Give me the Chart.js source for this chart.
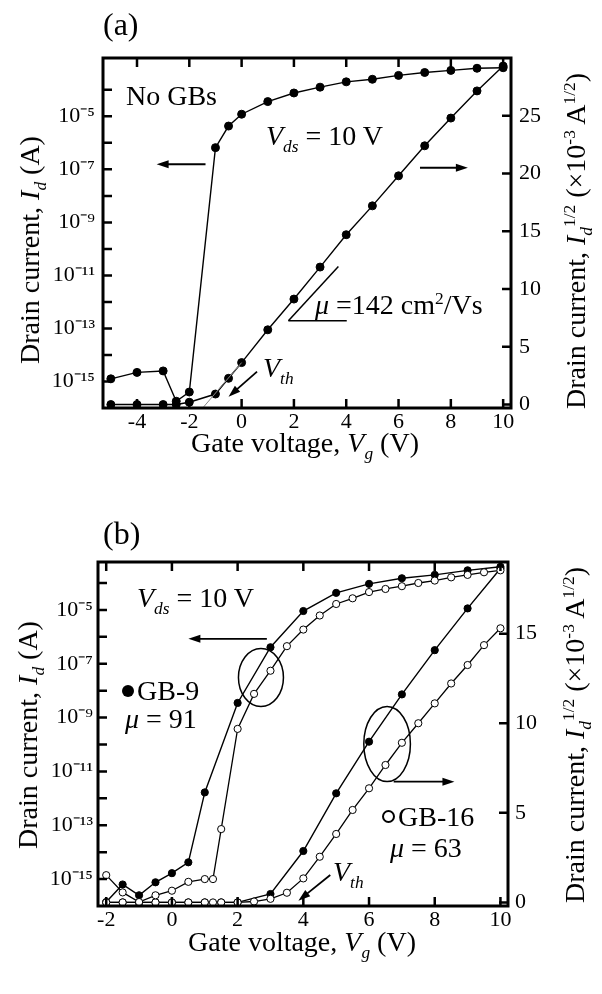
<!DOCTYPE html>
<html>
<head>
<meta charset="utf-8">
<script src="https://cdn.jsdelivr.net/npm/chart.js@4.4.1/dist/chart.umd.min.js"></script>
<style>
  html, body { margin: 0; padding: 0; background: #fff; }
  body { width: 602px; height: 994px; position: relative; overflow: hidden;
         font-family: "Liberation Serif", "Times New Roman", serif; color: #000; }
  .wrap { position: absolute; left: 0; width: 602px; }
  #wrapA { top: 0; height: 470px; }
  #wrapB { top: 480px; height: 514px; }
  .lbl { position: absolute; white-space: nowrap; font-size: 28px; line-height: 1; transform: translateY(-50%); }
  .vt { position: absolute; white-space: nowrap; font-size: 28px; line-height: 1; transform: translate(-50%, -50%) rotate(-90deg); }
  .ht { position: absolute; white-space: nowrap; font-size: 28px; line-height: 1; transform: translate(-50%, -50%); }
  sub, sup { font-size: 0.62em; line-height: 0; }
  .dot { display: inline-block; width: 12px; height: 12px; border-radius: 50%; background: #000; vertical-align: 3px; margin-right: 3px; }
  .ring { display: inline-block; width: 9px; height: 9px; border-radius: 50%; border: 2px solid #000; vertical-align: 3px; margin-right: 3px; }
</style>
</head>
<body>
<div class="wrap" id="wrapA"><canvas id="chartA" width="602" height="470"></canvas></div>
<div class="wrap" id="wrapB"><canvas id="chartB" width="602" height="514"></canvas></div>

<!-- panel (a) texts -->
<div class="lbl" style="left:103px; top:24px; font-size:32px;">(a)</div>
<div class="lbl" style="left:126px; top:96px;">No GBs</div>
<div class="lbl" style="left:266px; top:136px;"><i>V</i><sub><i>ds</i></sub> = 10 V</div>
<div class="lbl" style="left:315px; top:305px;"><i>μ</i> =142 cm<sup>2</sup>/Vs</div>
<div class="lbl" style="left:263px; top:368px;"><i>V</i><sub><i>th</i></sub></div>
<div class="vt" style="left:30px; top:250px;">Drain current, <i>I</i><sub><i>d</i></sub> (A)</div>
<div class="vt" style="left:576px; top:241px;">Drain current, <i>I</i><sub><i>d</i></sub><sup>1/2</sup> (×10<sup>-3</sup> A<sup>1/2</sup>)</div>
<div class="ht" style="left:305px; top:443px;">Gate voltage, <i>V</i><sub><i>g</i></sub> (V)</div>

<!-- panel (b) texts -->
<div class="lbl" style="left:103px; top:533px; font-size:32px;">(b)</div>
<div class="lbl" style="left:137px; top:598px;"><i>V</i><sub><i>ds</i></sub> = 10 V</div>
<div class="lbl" style="left:122px; top:691px;"><span class="dot"></span>GB-9</div>
<div class="lbl" style="left:125px; top:719px;"><i>μ</i> = 91</div>
<div class="lbl" style="left:382px; top:817px;"><span class="ring"></span>GB-16</div>
<div class="lbl" style="left:390px; top:848px;"><i>μ</i> = 63</div>
<div class="lbl" style="left:333px; top:872px;"><i>V</i><sub><i>th</i></sub></div>
<div class="vt" style="left:28px; top:735px;">Drain current, <i>I</i><sub><i>d</i></sub> (A)</div>
<div class="vt" style="left:575px; top:735px;">Drain current, <i>I</i><sub><i>d</i></sub><sup>1/2</sup> (×10<sup>-3</sup> A<sup>1/2</sup>)</div>
<div class="ht" style="left:302px; top:942px;">Gate voltage, <i>V</i><sub><i>g</i></sub> (V)</div>

<script>
// ---- panel (a): no grain boundaries ----
const vgA = [-5, -4, -3, -2.5, -2, -1, -0.5, 0, 1, 2, 3, 4, 5, 6, 7, 8, 9, 10];
const idA = [1.26e-15, 2.2e-15, 2.5e-15, 1.8e-16, 4.0e-16, 6.6e-7, 4.3e-6, 1.2e-5, 3.6e-5, 7.6e-5,
             1.26e-4, 2.0e-4, 2.5e-4, 3.5e-4, 4.5e-4, 5.4e-4, 6.5e-4, 6.8e-4];
const sqrtIdA = [0, 0, 0, 0, 0.2, 0.91, 2.27, 3.63, 6.47, 9.13, 11.9, 14.7, 17.2, 19.8, 22.4, 24.8, 27.15, 29.3];
// extrapolated line used for Vth
const vthFitVgA = [-1.45, 0];
const vthFitA = [-0.2, 3.63];

// ---- panel (b): GB-9 (filled) and GB-16 (open) ----
const vgB9 = [-2, -1.5, -1, -0.5, 0, 0.5, 1, 2, 3, 4, 5, 6, 7, 8, 9, 10];
const idB9 = [1.4e-16, 6.3e-16, 2.5e-16, 7.6e-16, 1.66e-15, 4.2e-15, 1.66e-12, 3.5e-9, 4.1e-7, 9.1e-6,
              4.3e-5, 9.3e-5, 1.5e-4, 2.0e-4, 2.95e-4, 4.0e-4];
const vgB9lin = [-2, -1.5, -1, -0.5, 0, 0.5, 1, 1.5, 2, 3, 4, 5, 6, 7, 8, 9, 10];
const sqrtIdB9 = [0, 0, 0, 0, 0, 0, 0, 0, 0, 0.47, 2.87, 6.09, 8.97, 11.61, 14.08, 16.41, 18.64];
const vgB16 = [-2, -1.5, -1, -0.5, 0, 0.5, 1, 1.25, 1.5, 2, 2.5, 3, 3.5, 4, 4.5, 5, 5.5, 6, 6.5, 7,
               7.5, 8, 8.5, 9, 9.5, 10];
const idB16 = [1.4e-15, 3.2e-16, 1.4e-16, 2.5e-16, 3.7e-16, 7.9e-16, 1.0e-15, 1.0e-15, 7.2e-14, 3.8e-10,
               7.6e-9, 5.5e-8, 4.5e-7, 1.86e-6, 6.2e-6, 1.66e-5, 2.7e-5, 4.6e-5, 6.0e-5, 7.6e-5,
               1.0e-4, 1.23e-4, 1.62e-4, 2.0e-4, 2.5e-4, 2.95e-4];
const sqrtIdB16 = [0, 0, 0, 0, 0, 0, 0, 0, 0, 0, 0.05, 0.2, 0.54, 1.34, 2.55, 3.82, 5.16, 6.37, 7.67, 8.91,
                   10.0, 11.11, 12.22, 13.25, 14.36, 15.3];

// ---- ticks ----
const xTicksA = [-4, -2, 0, 2, 4, 6, 8, 10];
const xTicksB = [-2, 0, 2, 4, 6, 8, 10];
const logTickExps = [-15, -14, -13, -12, -11, -10, -9, -8, -7, -6, -5, -4];
const logLabelExps = [-15, -13, -11, -9, -7, -5];
const linTicksA = [0, 5, 10, 15, 20, 25];
const linTicksB = [0, 5, 10, 15];

const SUP = { '-': '⁻', '0': '⁰', '1': '¹', '2': '²', '3': '³', '4': '⁴', '5': '⁵', '6': '⁶', '7': '⁷', '8': '⁸', '9': '⁹' };
const toSup = s => String(s).split('').map(c => SUP[c] || c).join('');
const pts = (xs, ys) => xs.map((x, i) => ({ x: x, y: ys[i] }));

const tickFont = { family: "'Liberation Serif', 'Times New Roman', serif", size: 22 };

// frame, inward tick marks, arrows and ellipses
const extras = {
  id: 'extras',
  afterDraw(chart, args, opts) {
    const ctx = chart.ctx, a = chart.chartArea;
    const sx = chart.scales.x, sl = chart.scales.yLog, sr = chart.scales.yLin;
    const L = opts.tickLen;
    ctx.save();
    ctx.strokeStyle = '#000';
    ctx.lineWidth = 2.5;
    ctx.beginPath();
    sx.ticks.forEach(t => {
      const p = sx.getPixelForValue(t.value);
      ctx.moveTo(p, a.bottom); ctx.lineTo(p, a.bottom - L);
      ctx.moveTo(p, a.top); ctx.lineTo(p, a.top + L);
    });
    sl.ticks.forEach(t => {
      const p = sl.getPixelForValue(t.value);
      ctx.moveTo(a.left, p); ctx.lineTo(a.left + L, p);
    });
    sr.ticks.forEach(t => {
      const p = sr.getPixelForValue(t.value);
      ctx.moveTo(a.right, p); ctx.lineTo(a.right - L, p);
    });
    ctx.stroke();
    ctx.lineWidth = 3;
    ctx.strokeRect(a.left, a.top, a.right - a.left, a.bottom - a.top);

    // arrows (data units)
    ctx.lineWidth = 1.8;
    (opts.arrows || []).forEach(ar => {
      const ys = chart.scales[ar.axis];
      const x1 = sx.getPixelForValue(ar.x1), y1 = ys.getPixelForValue(ar.y1);
      const x2 = sx.getPixelForValue(ar.x2), y2 = ys.getPixelForValue(ar.y2);
      const ang = Math.atan2(y2 - y1, x2 - x1);
      ctx.beginPath(); ctx.moveTo(x1, y1);
      ctx.lineTo(x2 - 8 * Math.cos(ang), y2 - 8 * Math.sin(ang)); ctx.stroke();
      ctx.beginPath();
      ctx.moveTo(x2, y2);
      ctx.lineTo(x2 - 12 * Math.cos(ang) + 4 * Math.sin(ang), y2 - 12 * Math.sin(ang) - 4 * Math.cos(ang));
      ctx.lineTo(x2 - 12 * Math.cos(ang) - 4 * Math.sin(ang), y2 - 12 * Math.sin(ang) + 4 * Math.cos(ang));
      ctx.closePath(); ctx.fillStyle = '#000'; ctx.fill();
    });
    // plain segments
    ctx.lineWidth = 1.5;
    (opts.segments || []).forEach(sg => {
      const ys = chart.scales[sg.axis];
      ctx.beginPath();
      ctx.moveTo(sx.getPixelForValue(sg.x1), ys.getPixelForValue(sg.y1));
      ctx.lineTo(sx.getPixelForValue(sg.x2), ys.getPixelForValue(sg.y2));
      ctx.stroke();
    });
    // ellipses
    (opts.ellipses || []).forEach(el => {
      const ys = chart.scales[el.axis];
      ctx.beginPath();
      ctx.ellipse(sx.getPixelForValue(el.x), ys.getPixelForValue(el.y), el.rx, el.ry, 0, 0, 2 * Math.PI);
      ctx.stroke();
    });
    ctx.restore();
  }
};

function makeOptions(c) {
  const noGrid = { display: false, drawTicks: false };
  return {
    responsive: false,
    animation: false,
    events: [],
    layout: { padding: { top: c.padTop, left: 0, right: 0, bottom: 0 } },
    plugins: { legend: { display: false }, tooltip: { enabled: false }, extras: c.extras },
    scales: {
      x: {
        type: 'linear', position: 'bottom', min: c.xMin, max: c.xMax,
        grid: noGrid, border: { display: false },
        ticks: { font: tickFont, color: '#000', padding: 1, autoSkip: false, maxRotation: 0,
                 callback: v => String(v) },
        afterBuildTicks: s => { s.ticks = c.xTicks.map(v => ({ value: v })); },
        afterFit: s => { s.height = c.xH; }
      },
      yLog: {
        type: 'logarithmic', position: 'left', min: c.logMin, max: c.logMax,
        grid: noGrid, border: { display: false },
        ticks: { font: tickFont, color: '#000', padding: c.leftPad, autoSkip: false,
                 callback: v => {
                   const e = Math.round(Math.log10(v));
                   return logLabelExps.includes(e) ? '10' + toSup(e) : '';
                 } },
        afterBuildTicks: s => { s.ticks = logTickExps.map(e => ({ value: Math.pow(10, e) })); },
        afterFit: s => { s.width = c.leftW; }
      },
      yLin: {
        type: 'linear', position: 'right', min: c.linMin, max: c.linMax,
        grid: noGrid, border: { display: false },
        ticks: { font: tickFont, color: '#000', padding: c.rightPad, autoSkip: false,
                 callback: v => String(v) },
        afterBuildTicks: s => { s.ticks = c.linTicks.map(v => ({ value: v })); },
        afterFit: s => { s.width = c.rightW; }
      }
    }
  };
}

const filled = { borderColor: '#000', borderWidth: 1.4, pointRadius: 4, pointBackgroundColor: '#000',
                 pointBorderColor: '#000', pointBorderWidth: 1, showLine: true, tension: 0 };
const open = { borderColor: '#000', borderWidth: 1.3, pointRadius: 3.6, pointBackgroundColor: '#fff',
               pointBorderColor: '#000', pointBorderWidth: 1, showLine: true, tension: 0 };

new Chart(document.getElementById('chartA'), {
  type: 'scatter',
  data: {
    datasets: [
      Object.assign({ data: pts(vthFitVgA, vthFitA), yAxisID: 'yLin' },
        { borderColor: '#888', borderWidth: 1, pointRadius: 0, showLine: true }),
      Object.assign({ data: pts(vgA, idA), yAxisID: 'yLog' }, filled),
      Object.assign({ data: pts(vgA, sqrtIdA), yAxisID: 'yLin' }, filled)
    ]
  },
  options: makeOptions({
    padTop: 58, leftW: 103, rightW: 91, xH: 62, leftPad: 8, rightPad: 8,
    xMin: -5.3, xMax: 10.3, xTicks: xTicksA,
    logMin: 1e-16, logMax: Math.pow(10, -2.8),
    linMin: -0.3, linMax: 30, linTicks: linTicksA,
    extras: {
      tickLen: 9,
      arrows: [
        { axis: 'yLin', x1: -1.38, y1: 20.8, x2: -3.25, y2: 20.8 },
        { axis: 'yLin', x1: 6.82, y1: 20.5, x2: 8.65, y2: 20.5 },
        { axis: 'yLin', x1: 0.59, y1: 2.85, x2: -0.5, y2: 0.68 }
      ],
      segments: [
        { axis: 'yLin', x1: 1.79, y1: 7.25, x2: 3.70, y2: 11.96 },
        { axis: 'yLin', x1: 1.79, y1: 7.25, x2: 4.02, y2: 7.25 }
      ]
    }
  }),
  plugins: [extras]
});

new Chart(document.getElementById('chartB'), {
  type: 'scatter',
  data: {
    datasets: [
      Object.assign({ data: pts(vgB16, idB16), yAxisID: 'yLog' }, open),
      Object.assign({ data: pts(vgB16, sqrtIdB16), yAxisID: 'yLin' }, open),
      Object.assign({ data: pts(vgB9, idB9), yAxisID: 'yLog' }, filled, { pointRadius: 3.6 }),
      Object.assign({ data: pts(vgB9lin, sqrtIdB9), yAxisID: 'yLin' }, filled, { pointRadius: 3.6 })
    ]
  },
  options: makeOptions({
    padTop: 82, leftW: 98, rightW: 94, xH: 88, leftPad: 5, rightPad: 7,
    xMin: -2.25, xMax: 10.23, xTicks: xTicksB,
    logMin: 1e-16, logMax: Math.pow(10, -3.22),
    linMin: -0.2, linMax: 19, linTicks: linTicksB,
    extras: {
      tickLen: 9,
      arrows: [
        { axis: 'yLin', x1: 2.89, y1: 14.71, x2: 0.5, y2: 14.71 },
        { axis: 'yLin', x1: 6.75, y1: 6.74, x2: 8.6, y2: 6.74 },
        { axis: 'yLin', x1: 4.82, y1: 1.53, x2: 3.85, y2: 0.1 }
      ],
      ellipses: [
        { axis: 'yLin', x: 2.71, y: 12.55, rx: 22.5, ry: 29 },
        { axis: 'yLin', x: 6.55, y: 8.84, rx: 23.3, ry: 37.5 }
      ]
    }
  }),
  plugins: [extras]
});
</script>
</body>
</html>
